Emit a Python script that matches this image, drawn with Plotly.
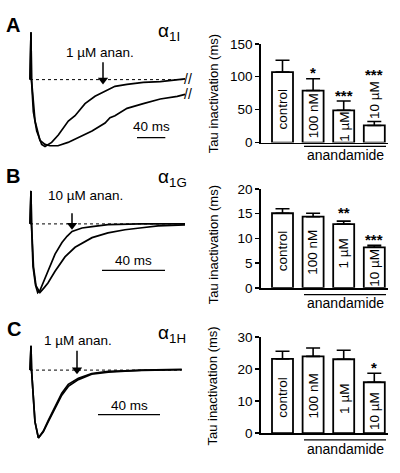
import plotly.graph_objects as go

W, H = 400, 473
FONT = "Liberation Sans, Arial, Helvetica, sans-serif"

# ---------------- DATA ----------------
# Current traces: time (ms) and current normalised to peak (baseline = 0, peak = -1)
a_t_anan = [0, 1.4, 2.1, 4.7, 9.5, 16.5, 21.2, 30.6, 40, 54.1, 63.6, 77.7, 91.8, 106, 120, 137, 160, 184, 208, 219]
a_i_anan = [0, 0.71, 0, -0.48, -0.77, -0.97, -1.0, -0.94, -0.83, -0.62, -0.54, -0.36, -0.25, -0.17, -0.10, -0.07, -0.04, -0.03, 0, 0.01]
a_t_ctrl = [0, 1.4, 2.1, 7.1, 14.1, 21.2, 28.2, 39.5, 53.7, 67.8, 87.6, 106, 113, 120, 137, 160, 184, 208, 219]
a_i_ctrl = [0, 0.71, 0, -0.62, -0.91, -0.97, -0.99, -0.99, -0.94, -0.87, -0.77, -0.65, -0.57, -0.54, -0.43, -0.36, -0.29, -0.25, -0.22]

b_t_anan = [0, 0.63, 0.95, 1.9, 3.5, 4.9, 6.3, 8.3, 11.4, 15.9, 20.3, 23.5, 26.7, 33, 39.4, 49.5, 69.8, 98.4]
b_i_anan = [0, 0.48, 0, -0.62, -0.89, -1.0, -0.97, -0.86, -0.68, -0.44, -0.27, -0.18, -0.11, -0.06, -0.04, -0.01, 0, 0]
b_t_ctrl = [0, 0.63, 0.95, 2.2, 3.8, 6.3, 8.9, 11.4, 15.9, 22.2, 28.6, 39.4, 49.5, 60.3, 71.1, 81.3, 98.4]
b_i_ctrl = [0, 0.48, 0, -0.62, -0.90, -1.0, -0.93, -0.86, -0.69, -0.48, -0.34, -0.20, -0.13, -0.085, -0.056, -0.028, -0.014]

c_t = [0, 0.65, 1.0, 2.0, 3.2, 5.4, 8.6, 11.8, 16.1, 20.5, 24.7, 31.2, 39.8, 50.5, 61.3, 72.1, 97.9]
c_i_ctrl = [0, 0.36, 0, -0.29, -0.76, -1.0, -0.90, -0.74, -0.53, -0.34, -0.21, -0.12, -0.05, -0.02, -0.01, 0, 0.01]
c_i_anan = [0, 0.36, 0, -0.29, -0.76, -1.0, -0.91, -0.76, -0.56, -0.37, -0.24, -0.14, -0.06, -0.03, -0.015, -0.005, 0.005]

scale_bar_ms = 40

# Bar charts: Tau inactivation (ms)
categories = ["control", "100 nM", "1 µM", "10 µM"]
a_tau = [107, 79, 49, 26]
a_err = [18, 18, 14, 6]
b_tau = [15.1, 14.4, 12.9, 8.2]
b_err = [0.9, 0.7, 0.6, 0.4]
c_tau = [23.2, 24.0, 23.1, 15.9]
c_err = [2.4, 2.6, 2.8, 2.8]
a_sig = ["", "*", "***", "***"]
b_sig = ["", "", "**", "***"]
c_sig = ["", "", "", "*"]
a_ticks = [0, 50, 100, 150]
b_ticks = [0, 5, 10, 15, 20]
c_ticks = [0, 10, 20, 30]

panel_letters = ["A", "B", "C"]
subunits = ["α<sub>1I</sub>", "α<sub>1G</sub>", "α<sub>1H</sub>"]
drug_labels = ["1 µM anan.", "10 µM anan.", "1 µM anan."]

# ---------------- LAYOUT (pixel calibration) ----------------
def py(px):
    return 1 - px / H

def pxx(px):
    return px / W

trace_cal = [
    dict(x0=30, ppm=0.708, y0=75, ppu=69, box=(25, 200, 15, 160),
         arrow=(103, 80, 57), label=(100, 47), sbar=(137, 135), stext=123),
    dict(x0=30, ppm=1.575, y0=224, ppu=71, box=(25, 200, 178, 310),
         arrow=(72, 230, 213), label=(85, 195), sbar=(102, 272), stext=262),
    dict(x0=30, ppm=1.55, y0=375, ppu=70, box=(25, 200, 335, 460),
         arrow=(77, 379, 355), label=(78, 344), sbar=(98, 421), stext=412),
]
head_size = 9
bar_y_box = [(38, 140), (188, 290), (341, 440)]
bar_x_px = (261, 388)
bar_c0, bar_step = 282.5, 30.6
bar_width = 21 / bar_step
letter_pos = [(13, 19), (13, 175), (14, 333)]
alpha_pos = [(156, 26), (156, 177), (156, 338)]
title_y = [90, 246, 392]
under_px = [(304, 386, 144), (304, 386, 297), (304, 386, 447)]
anand_text_y = [153, 306, 456]
label_y = [[51, 40, 23.5, 65], [7.5, 7.1, 6.9, 4.1], [11.2, 11.5, 10.6, 7.0]]
star_y = [[None, 112, 78, 109], [None, None, 16.1, 10.6], [None, None, None, 21.8]]

trace_sets = [
    [(a_t_ctrl, a_i_ctrl), (a_t_anan, a_i_anan)],
    [(b_t_ctrl, b_i_ctrl), (b_t_anan, b_i_anan)],
    [(c_t, c_i_ctrl), (c_t, c_i_anan)],
]
bar_sets = [(a_tau, a_err, a_sig, a_ticks), (b_tau, b_err, b_sig, b_ticks), (c_tau, c_err, c_sig, c_ticks)]


def axkey(letter, n):
    return f"{letter}axis" + ("" if n == 1 else str(n))


def axref(letter, n):
    return letter + ("" if n == 1 else str(n))


def ann(**kw):
    d = dict(showarrow=False, xanchor="center", yanchor="middle")
    d.update(kw)
    return d


fig = go.Figure()
layout = dict(
    width=W, height=H, margin=dict(l=0, r=0, t=0, b=0),
    paper_bgcolor="white", plot_bgcolor="rgba(0,0,0,0)",
    showlegend=False, font=dict(family=FONT, color="black"),
)
annotations = []
shapes = []

for i in range(3):
    cal = trace_cal[i]
    nt, nb = 2 * i + 1, 2 * i + 2
    xr_t, yr_t = axref("x", nt), axref("y", nt)
    xr_b, yr_b = axref("x", nb), axref("y", nb)
    L, R, T, B = cal["box"]
    tx = lambda px, c=cal: (px - c["x0"]) / c["ppm"]
    iy = lambda px, c=cal: (c["y0"] - px) / c["ppu"]

    layout[axkey("x", nt)] = dict(domain=[pxx(L), pxx(R)], range=[tx(L), tx(R)], visible=False,
                                  anchor=yr_t, fixedrange=True)
    layout[axkey("y", nt)] = dict(domain=[py(B), py(T)], range=[iy(B), iy(T)], visible=False,
                                  anchor=xr_t, fixedrange=True)

    # dotted baseline across trace duration
    t_all = trace_sets[i][0][0]
    fig.add_trace(go.Scatter(x=[t_all[0], t_all[-1]], y=[0, 0], mode="lines",
                             line=dict(color="black", width=1, dash="dot"),
                             xaxis=xr_t, yaxis=yr_t, hoverinfo="skip"))
    for (t, cur) in trace_sets[i]:
        fig.add_trace(go.Scatter(x=t, y=cur, mode="lines",
                                 line=dict(color="black", width=1.7),
                                 xaxis=xr_t, yaxis=yr_t, hoverinfo="skip"))
        if i == 0:
            annotations.append(ann(x=t[-1], y=cur[-1], xref=xr_t, yref=yr_t, text="//",
                                   xshift=3, font=dict(size=14, family=FONT)))

    # arrow (shaft + filled head) and drug label
    ax_px, tip_px, tail_px = cal["arrow"]
    head_c = tip_px - head_size / 2
    fig.add_trace(go.Scatter(x=[tx(ax_px), tx(ax_px)], y=[iy(tail_px), iy(head_c)], mode="lines",
                             line=dict(color="black", width=1.5),
                             xaxis=xr_t, yaxis=yr_t, hoverinfo="skip"))
    fig.add_trace(go.Scatter(x=[tx(ax_px)], y=[iy(head_c)], mode="markers",
                             marker=dict(symbol="triangle-down", size=head_size, color="black",
                                         line=dict(width=0)),
                             xaxis=xr_t, yaxis=yr_t, hoverinfo="skip"))
    lx, ly = cal["label"]
    annotations.append(ann(x=tx(lx), y=iy(ly), xref=xr_t, yref=yr_t, text=drug_labels[i],
                           font=dict(size=13.5, family=FONT)))
    # scale bar
    sx, sy = cal["sbar"]
    t0 = tx(sx)
    fig.add_trace(go.Scatter(x=[t0, t0 + scale_bar_ms], y=[iy(sy), iy(sy)], mode="lines",
                             line=dict(color="black", width=1.3),
                             xaxis=xr_t, yaxis=yr_t, hoverinfo="skip"))
    annotations.append(ann(x=t0 + scale_bar_ms / 2, y=iy(cal["stext"]), xref=xr_t, yref=yr_t,
                           text=f"{scale_bar_ms} ms", font=dict(size=13.5, family=FONT)))
    # panel letter & subunit
    lpx, lpy = letter_pos[i]
    annotations.append(ann(x=pxx(lpx), y=py(lpy), xref="paper", yref="paper",
                           text=f"<b>{panel_letters[i]}</b>", font=dict(size=20, family=FONT)))
    apx, apy = alpha_pos[i]
    annotations.append(ann(x=pxx(apx), y=py(apy), xref="paper", yref="paper", text=subunits[i],
                           xanchor="left", font=dict(size=19, family=FONT)))

    # ---- bar chart ----
    tau, err, sig, ticks = bar_sets[i]
    yb0, yb1 = bar_y_box[i][1], bar_y_box[i][0]
    layout[axkey("x", nb)] = dict(domain=[pxx(bar_x_px[0]), pxx(bar_x_px[1])],
                                  range=[(bar_x_px[0] - bar_c0) / bar_step, (bar_x_px[1] - bar_c0) / bar_step],
                                  anchor=yr_b, showline=True, linecolor="black", linewidth=1.8,
                                  showticklabels=False, ticks="", showgrid=False, zeroline=False,
                                  fixedrange=True)
    layout[axkey("y", nb)] = dict(domain=[py(yb0), py(yb1)], range=[0, ticks[-1]], anchor=xr_b,
                                  tickvals=ticks, ticks="outside", ticklen=4, tickwidth=1.5,
                                  tickcolor="black", showline=True, linecolor="black", linewidth=1.8,
                                  showgrid=False, zeroline=False, fixedrange=True,
                                  tickfont=dict(size=13.5, family=FONT, color="black"))
    xs = list(range(len(categories)))
    fig.add_trace(go.Bar(x=xs, y=tau, width=bar_width, xaxis=xr_b, yaxis=yr_b,
                         marker=dict(color="white", line=dict(color="black", width=1.8)),
                         error_y=dict(type="data", array=err, arrayminus=[0] * len(err), symmetric=False,
                                      color="black", thickness=1.6, width=7),
                         hoverinfo="skip"))
    for k, cat in enumerate(categories):
        annotations.append(ann(x=k, y=label_y[i][k], xref=xr_b, yref=yr_b, text=cat, textangle=-90,
                               font=dict(size=13.5, family=FONT)))
        if sig[k]:
            annotations.append(ann(x=k, y=star_y[i][k], xref=xr_b, yref=yr_b, text=f"<b>{sig[k]}</b>",
                                   yshift=-4, font=dict(size=15, family=FONT)))
    ux0, ux1, uy = under_px[i]
    shapes.append(dict(type="line", xref=xr_b, yref="paper",
                       x0=(ux0 - bar_c0) / bar_step, x1=(ux1 - bar_c0) / bar_step,
                       y0=py(uy), y1=py(uy), line=dict(color="black", width=1.3)))
    annotations.append(ann(x=((ux0 + ux1) / 2 - bar_c0) / bar_step, y=py(anand_text_y[i]),
                           xref=xr_b, yref="paper", text="anandamide",
                           font=dict(size=14, family=FONT)))
    annotations.append(ann(x=pxx(213), y=py(title_y[i]), xref="paper", yref="paper",
                           text="Tau inactivation (ms)", textangle=-90,
                           font=dict(size=13, family=FONT)))

layout["annotations"] = annotations
layout["shapes"] = shapes
fig.update_layout(**layout)
fig.write_html("out.html", config={"displayModeBar": False, "staticPlot": True},
               post_script="document.body.style.margin='0px';")
